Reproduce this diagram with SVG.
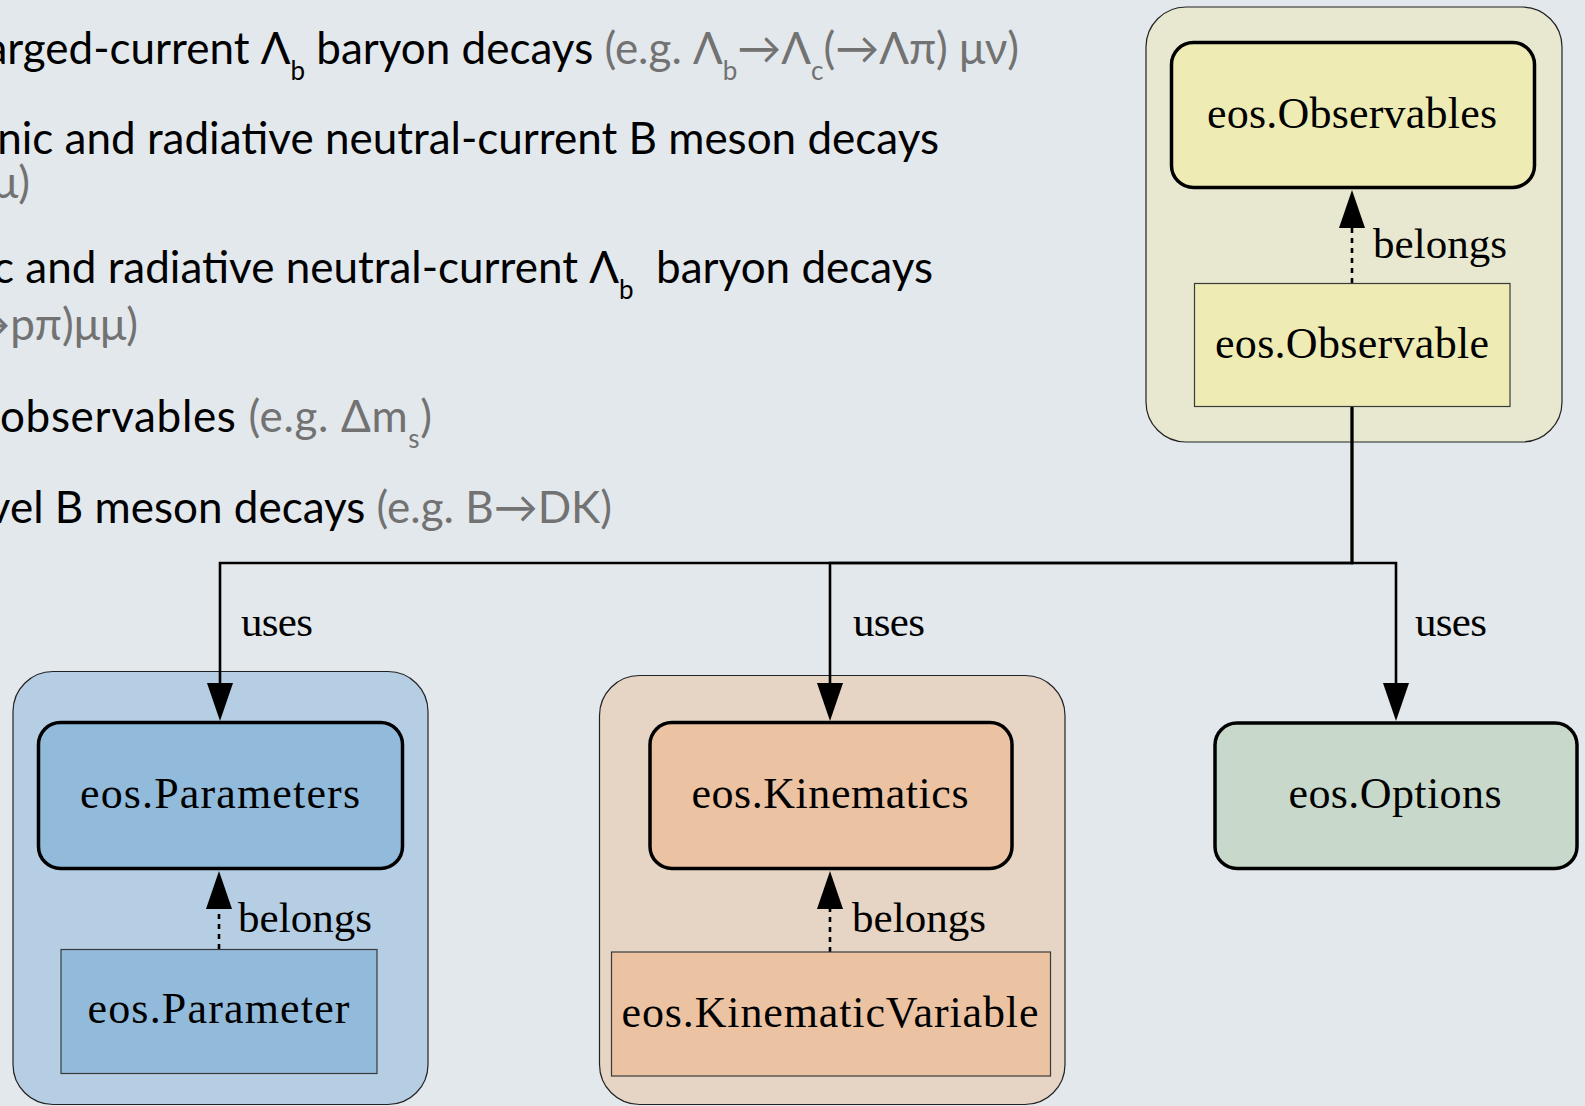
<svg xmlns="http://www.w3.org/2000/svg" width="1585" height="1106" viewBox="0 0 1585 1106">
<defs>
<style>
.t{font-family:Lato,"Noto Sans","DejaVu Sans",sans-serif;font-size:44px;fill:#000}
.g{fill:#727272}
.sub{font-size:26px}
.lbl{font-family:"Liberation Serif","Times New Roman",serif;font-size:44px;fill:#000;text-anchor:middle}
.el{font-family:"Liberation Serif","Times New Roman",serif;font-size:43px;fill:#000}
.cluster{stroke:#222;stroke-width:1.2}
.bold{stroke:#000;stroke-width:3.5}
.leaf{stroke:#3a3a3a;stroke-width:1.2}
.edge{fill:none;stroke:#000;stroke-width:2.6}
.dot{fill:none;stroke:#000;stroke-width:2.6;stroke-dasharray:5 5}
</style>
<marker id="ah" markerUnits="userSpaceOnUse" markerWidth="40" markerHeight="28" refX="0" refY="13" orient="auto" overflow="visible">
<path d="M0,0 L38,13 L0,26 Z" fill="#000"/>
</marker>
</defs>
<rect width="1585" height="1106" fill="#e3e8ec"/>

<g id="intro-text">
<text class="t" x="1019" y="64" text-anchor="end">arged-current Λ<tspan class="sub" dy="16">b</tspan><tspan dy="-16"> baryon decays </tspan><tspan class="g">(e.g. Λ</tspan><tspan class="g sub" dy="16">b</tspan><tspan class="g" dy="-16">→Λ</tspan><tspan class="g sub" dy="16">c</tspan><tspan class="g" dy="-16">(→Λπ) μν)</tspan></text>
<text class="t" x="939" y="154" text-anchor="end">nic and radiative neutral-current B meson decays</text>
<text class="t g" x="30" y="198" text-anchor="end">μ)</text>
<text class="t" x="933" y="283" text-anchor="end" xml:space="preserve">c and radiative neutral-current Λ<tspan class="sub" dy="16">b</tspan><tspan dy="-16">  baryon decays</tspan></text>
<text class="t g" x="138" y="340" text-anchor="end">→pπ)μμ)</text>
<text class="t" x="0" y="432" textLength="432" lengthAdjust="spacing">observables <tspan class="g">(e.g. Δm</tspan><tspan class="g sub" dy="16">s</tspan><tspan class="g" dy="-16">)</tspan></text>
<text class="t" x="612" y="523" text-anchor="end">vel B meson decays <tspan class="g">(e.g. B→DK)</tspan></text>
</g>

<g id="cluster-observables">
<rect class="cluster" x="1146" y="7" width="416" height="435" rx="40" fill="#e7e8cf"/>
</g>
<g id="cluster-parameters">
<rect class="cluster" x="13" y="671.5" width="415" height="433" rx="40" fill="#b6cee3"/>
</g>
<g id="cluster-kinematics">
<rect class="cluster" x="599.5" y="675.5" width="465.5" height="429" rx="40" fill="#e6d4c4"/>
</g>

<g id="connectors">
<path class="edge" d="M1352,407 V563 H220 V683" marker-end="url(#ah)"/>
<path class="edge" d="M1352,407 V563 H830 V683" marker-end="url(#ah)"/>
<path class="edge" d="M1352,407 V563 H1396 V683" marker-end="url(#ah)"/>
<path class="dot" d="M1352,283 V228" marker-end="url(#ah)"/>
<path class="dot" d="M219,949 V909" marker-end="url(#ah)"/>
<path class="dot" d="M830,952 V909" marker-end="url(#ah)"/>
<text class="el" x="241" y="636" textLength="72">uses</text>
<text class="el" x="853" y="636" textLength="72">uses</text>
<text class="el" x="1415" y="636" textLength="72">uses</text>
<text class="el" x="1373" y="258" textLength="134">belongs</text>
<text class="el" x="238" y="932" textLength="134">belongs</text>
<text class="el" x="852" y="932" textLength="134">belongs</text>
</g>

<g id="node-observables">
<rect class="bold" x="1171.5" y="42.5" width="363" height="145" rx="22" fill="#eeecb4"/>
<text class="lbl" x="1352" y="128" textLength="290">eos.Observables</text>
</g>
<g id="node-observable">
<rect class="leaf" x="1194.5" y="283.5" width="315.5" height="123" fill="#eeecb4"/>
<text class="lbl" x="1352" y="358" textLength="274">eos.Observable</text>
</g>
<g id="node-parameters">
<rect class="bold" x="38.5" y="722.5" width="364" height="146" rx="22" fill="#92badb"/>
<text class="lbl" x="220" y="808" textLength="280">eos.Parameters</text>
</g>
<g id="node-parameter">
<rect class="leaf" x="61" y="949.5" width="316" height="124" fill="#92badb"/>
<text class="lbl" x="218.5" y="1023" textLength="262">eos.Parameter</text>
</g>
<g id="node-kinematics">
<rect class="bold" x="650" y="722.5" width="362" height="146" rx="22" fill="#ebc3a3"/>
<text class="lbl" x="830" y="808" textLength="277">eos.Kinematics</text>
</g>
<g id="node-kinematicvariable">
<rect class="leaf" x="611.5" y="952" width="439" height="124" fill="#ebc3a3"/>
<text class="lbl" x="830" y="1027" textLength="417">eos.KinematicVariable</text>
</g>
<g id="node-options">
<rect class="bold" x="1215" y="723" width="362" height="145.5" rx="22" fill="#c8d9cb"/>
<text class="lbl" x="1395" y="808" textLength="213">eos.Options</text>
</g>
</svg>
